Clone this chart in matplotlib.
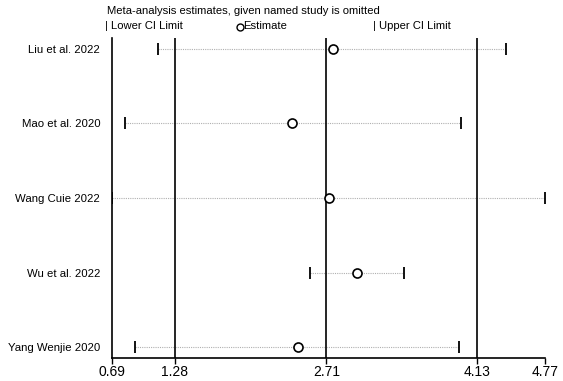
import matplotlib
matplotlib.use("Agg")
import matplotlib.pyplot as plt
from matplotlib.lines import Line2D

plt.rcParams["font.family"] = ["Liberation Sans", "DejaVu Sans"]

# data
studies = ["Liu et al. 2022", "Mao et al. 2020", "Wang Cuie 2022",
           "Wu et al. 2022", "Yang Wenjie 2020"]
estimate = [2.77, 2.39, 2.73, 3.00, 2.44]
lower_ci = [1.12, 0.81, 0.69, 2.56, 0.91]
upper_ci = [4.40, 3.98, 4.77, 3.44, 3.96]

overall = [1.28, 2.71, 4.13]
xticks = [0.69, 1.28, 2.71, 4.13, 4.77]

fig = plt.figure(figsize=(5.63, 3.81), dpi=100, facecolor="white")
ax = fig.add_axes([112 / 563, 23 / 381, 433 / 563, 320 / 381])

rows = list(range(1, len(studies) + 1))

# dotted guide for each omitted study
for y, lo, hi in zip(rows, lower_ci, upper_ci):
    ax.plot([lo, hi], [y, y], ls=(0, (1, 1)), color="#b0b0b0", lw=0.8, zorder=1)

# overall estimate and CI
for v in overall:
    ax.axvline(v, color="black", lw=1.2, zorder=2)

ax.plot(lower_ci, rows, ls="none", marker="|", ms=8, mew=1.3, color="black", zorder=3)
ax.plot(upper_ci, rows, ls="none", marker="|", ms=8, mew=1.3, color="black", zorder=3)
ax.plot(estimate, rows, ls="none", marker="o", ms=6.5, mfc="white", mec="black",
        mew=1.2, zorder=4)

ax.set_xlim(xticks[0], xticks[-1])
ax.set_ylim(5.145, 0.855)
ax.set_yticks(rows)
ax.set_yticklabels(studies, fontsize=8.2)
ax.tick_params(axis="y", length=0, pad=8.5)
ax.set_xticks(xticks)
ax.set_xticklabels([f"{t:.2f}" for t in xticks], fontsize=10)
ax.tick_params(axis="x", length=4, width=1, pad=1)
for s in ["top", "right"]:
    ax.spines[s].set_visible(False)
for s in ["left", "bottom"]:
    ax.spines[s].set_linewidth(1.2)

# header and legend
fig.text(107 / 563, 1 - 11 / 381, "Meta-analysis estimates, given named study is omitted",
         fontsize=8.1, va="center", ha="left")
fig.text(105 / 563, 1 - 26 / 381, "| Lower CI Limit", fontsize=8.1, va="center", ha="left")
fig.text(243 / 563, 1 - 26 / 381, "Estimate", fontsize=8.1, va="center", ha="left")
fig.text(373 / 563, 1 - 26 / 381, "| Upper CI Limit", fontsize=8.1, va="center", ha="left")
fig.add_artist(Line2D([239.5 / 563], [1 - 26.5 / 381], marker="o", ms=5, mfc="white",
                      mec="black", mew=1.0, transform=fig.transFigure))

fig.savefig("out.png", dpi=100, facecolor="white")
